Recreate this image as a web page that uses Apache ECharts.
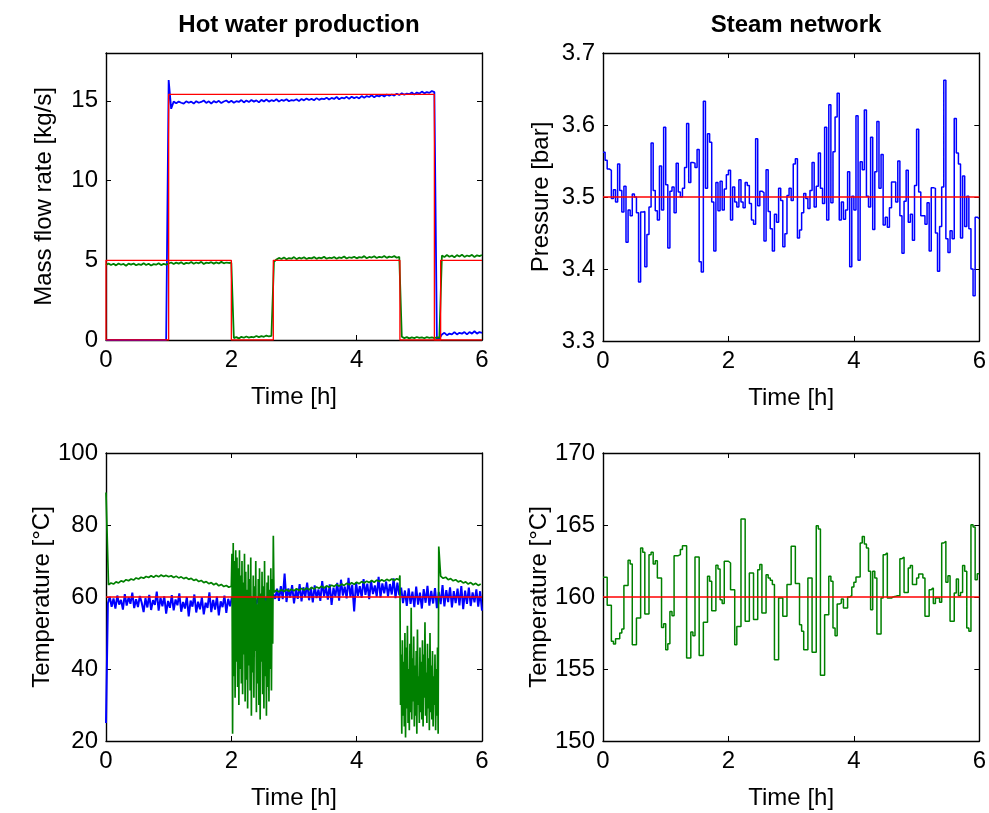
<!DOCTYPE html>
<html>
<head>
<meta charset="utf-8">
<title>Hot water production / Steam network</title>
<script src="https://cdn.jsdelivr.net/npm/echarts@6/dist/echarts.min.js"></script>
<style>
  html, body { margin: 0; padding: 0; background: #fff; }
  #chart { width: 989px; height: 813px; }
</style>
</head>
<body>
<div id="chart"></div>
<script>
// ---- data ----
// top left: mass flow rate [kg/s], sampled every 0.04 h from t = 0
var flowStep = 0.04;
var flowHot = [
  0, 0, 0, 0, 0, 0, 0, 0, 0, 0, 0, 0, 0, 0, 0, 0, 0, 0, 0, 0, 0, 0, 0, 0, 0,
  16.3, 14.5, 14.95, 14.85, 14.95, 14.88, 14.82, 14.97, 14.88, 14.95, 14.83, 14.98, 14.88, 14.93, 15.02,
  14.87, 14.97, 14.83, 14.98, 14.9, 15.0, 14.86, 14.96, 15.02, 14.9, 15.0,
  14.88, 14.98, 14.93, 15.05, 14.9, 15.02, 14.92, 15.05, 14.95, 15.03, 14.9, 15.06, 14.96, 15.08, 14.95,
  15.04, 14.98, 15.1, 14.95, 15.06, 15.0, 15.1, 14.97, 15.05, 15.02,
  15.1, 14.98, 15.12, 15.03, 15.14, 15.05, 15.12, 15.04, 15.17, 15.06, 15.14, 15.1, 15.2, 15.08, 15.18,
  15.12, 15.24, 15.1, 15.2, 15.15, 15.25, 15.12, 15.26, 15.17, 15.24,
  15.15, 15.3, 15.2, 15.3, 15.24, 15.35, 15.22, 15.33, 15.28, 15.38, 15.27, 15.4, 15.32, 15.4, 15.33,
  15.45, 15.36, 15.48, 15.38, 15.46, 15.42, 15.52, 15.4, 15.52, 15.45,
  15.58, 15.47, 15.55, 15.5, 15.62, 15.55,
  0.08, 0.1, 0.35, 0.45, 0.3, 0.4, 0.35, 0.5, 0.35, 0.45, 0.4, 0.5, 0.35, 0.5, 0.4, 0.55, 0.4, 0.5, 0.45
];
var flowGreen = [
  4.7,
  4.8, 4.7, 4.78, 4.68, 4.8, 4.72, 4.77, 4.66, 4.79, 4.73, 4.8, 4.69, 4.76, 4.71, 4.82, 4.7, 4.78, 4.67,
  4.76, 4.72, 4.81, 4.7, 4.77, 4.73,
  4.8, 4.86, 4.77, 4.85, 4.79, 4.88, 4.76, 4.84, 4.8, 4.89, 4.78, 4.86, 4.81, 4.9, 4.77, 4.85, 4.82, 4.88,
  4.79, 4.87, 4.8, 4.9, 4.81, 4.86, 4.83,
  4.85,
  0.12, 0.18, 0.1, 0.2, 0.14, 0.22, 0.15, 0.2, 0.17, 0.25, 0.18, 0.24, 0.2, 0.28, 0.22, 0.26,
  4.9,
  5.05, 5.15, 5.08, 5.18, 5.06, 5.14, 5.1, 5.2, 5.07, 5.16, 5.11, 5.19, 5.08, 5.15, 5.12, 5.2, 5.09, 5.17,
  5.12, 5.22, 5.1, 5.16, 5.13, 5.21, 5.1, 5.18, 5.14, 5.24, 5.11, 5.19, 5.15, 5.22, 5.12, 5.2, 5.16, 5.26,
  5.13, 5.21, 5.17, 5.25, 5.14, 5.22, 5.18, 5.27, 5.15, 5.23, 5.19, 5.26, 5.16, 5.22,
  0.2, 0.12, 0.18, 0.1, 0.16, 0.12, 0.19, 0.13, 0.17, 0.11, 0.18, 0.14, 0.16, 0.12, 0.17, 0.15,
  5.3, 5.2, 5.33, 5.22, 5.3, 5.18, 5.32, 5.24, 5.35, 5.21, 5.3, 5.25, 5.34, 5.2, 5.31, 5.26, 5.33
];
// set points (stairs): switching times [h] and levels [kg/s]
var flowHotSetT = [0, 1.0, 5.24, 6];
var flowHotSetV = [0, 15.4, 0, 0];
var flowGreenSetT = [0, 0, 2.0, 2.67, 4.69, 5.34, 6];
var flowGreenSetV = [0, 5, 0, 5, 0, 5, 5];

// top right: steam pressure [bar], held every 1/30 h
var stairStep = 1 / 30;
var pressure = [
  3.562, 3.551, 3.539, 3.537, 3.498, 3.510, 3.493, 3.546, 3.509, 3.479,
  3.515, 3.437, 3.482, 3.474, 3.504, 3.500, 3.478, 3.382, 3.479, 3.480,
  3.403, 3.448, 3.486, 3.575, 3.509, 3.481, 3.468, 3.543, 3.482, 3.597,
  3.517, 3.429, 3.508, 3.514, 3.478, 3.547, 3.507, 3.500, 3.512, 3.541,
  3.602, 3.520, 3.548, 3.547, 3.541, 3.566, 3.410, 3.396, 3.633, 3.512,
  3.588, 3.576, 3.493, 3.425, 3.520, 3.481, 3.522, 3.482, 3.511, 3.531,
  3.537, 3.468, 3.514, 3.493, 3.486, 3.524, 3.493, 3.485, 3.520, 3.516,
  3.491, 3.468, 3.462, 3.581, 3.488, 3.508, 3.506, 3.439, 3.538, 3.480,
  3.456, 3.425, 3.476, 3.465, 3.512, 3.495, 3.431, 3.449, 3.502, 3.512,
  3.495, 3.546, 3.553, 3.443, 3.454, 3.478, 3.505, 3.498, 3.484, 3.509,
  3.548, 3.486, 3.515, 3.561, 3.512, 3.491, 3.597, 3.468, 3.628, 3.492,
  3.563, 3.611, 3.644, 3.468, 3.493, 3.469, 3.482, 3.535, 3.403, 3.501,
  3.482, 3.613, 3.412, 3.549, 3.538, 3.621, 3.501, 3.486, 3.583, 3.455,
  3.535, 3.605, 3.512, 3.559, 3.461, 3.472, 3.458, 3.485, 3.521, 3.521,
  3.493, 3.550, 3.474, 3.422, 3.494, 3.537, 3.465, 3.476, 3.440, 3.516,
  3.594, 3.507, 3.474, 3.474, 3.462, 3.492, 3.425, 3.513, 3.512, 3.450,
  3.397, 3.459, 3.514, 3.662, 3.442, 3.423, 3.453, 3.442, 3.609, 3.561,
  3.546, 3.443, 3.529, 3.459, 3.501, 3.456, 3.400, 3.363, 3.472, 3.470
];
var pressureSet = 3.5;

// bottom left: hot water temperatures [°C]
var tempBlueStep = 0.03;
var tempBlue = [
  25,
  58.2, 60.1, 57.3, 59.6, 56.8, 60.4, 57.9, 59.2, 56.5, 60.8,
  57.6, 59.9, 58.1, 61.2, 56.9, 59.4, 57.2, 60.3, 58.4, 55.8,
  59.7, 57.1, 60.6, 56.4, 59.1, 57.8, 61.5, 56.2, 59.8, 57.4,
  60.2, 55.4, 58.9, 57.0, 60.5, 56.3, 59.3, 57.7, 61.0, 55.9,
  58.6, 56.8, 60.0, 54.6, 59.0, 57.3, 60.7, 55.7, 58.7, 56.6,
  59.9, 55.2, 58.4, 57.0, 61.3, 55.8, 59.2, 56.5, 60.1, 54.9,
  58.8, 57.2, 60.4, 55.6, 59.5, 57.4, 60.0, 57.6, 60.3, 58.0,
  59.6, 57.8, 60.5, 58.2, 59.9, 57.5, 60.2, 58.4, 60.6, 57.9,
  60.0, 58.3, 60.8, 57.7, 59.8, 58.5, 60.4, 58.0, 60.9, 59.5,
  62.3, 58.9, 63.0, 59.4, 66.5, 58.6, 62.4, 59.8, 63.3, 58.2,
  62.0, 59.5, 63.6, 58.8, 62.7, 60.0, 64.0, 59.1, 62.5, 58.5,
  63.2, 59.7, 62.1, 58.9, 64.4, 60.2, 62.8, 59.3, 63.5, 57.8,
  62.6, 60.1, 63.9, 59.0, 64.8, 60.4, 62.9, 59.6, 65.3, 60.0,
  63.4, 56.0, 64.1, 60.3, 63.0, 59.8, 65.0, 60.6, 63.7, 59.4,
  64.5, 60.8, 63.2, 60.1, 65.6, 59.9, 63.8, 61.0, 64.3, 60.2,
  63.6, 60.7, 65.2, 59.7, 64.0, 60.5, 62.6, 58.3, 61.8, 57.5,
  62.4, 58.1, 61.5, 57.2, 62.9, 57.9, 61.2, 56.8, 62.2, 58.4,
  63.1, 57.6, 61.7, 58.2, 62.5, 56.9, 61.4, 58.0, 63.3, 57.4,
  61.9, 58.6, 62.7, 57.1, 61.6, 58.3, 62.3, 57.7, 63.0, 56.6,
  61.8, 58.1, 62.6, 57.5, 61.3, 58.5, 62.1, 57.3, 61.6, 56.2
];
// green temperature: calm parts every 0.04 h, oscillating parts every 0.01 h
var tempGreenA = [
  89,
  63.4, 63.9, 63.6, 64.2, 63.9, 64.5, 64.2, 64.8, 64.5, 65.0, 64.7, 65.3, 65.0, 65.5, 65.2, 65.7, 65.4,
  65.9, 65.5, 66.0, 65.6, 66.1, 65.7, 66.0, 65.6, 65.9, 65.4, 65.8, 65.3, 65.6, 65.1, 65.4, 64.9, 65.2,
  64.6, 64.9, 64.3, 64.6, 64.0, 64.3, 63.7, 64.0, 63.4, 63.8, 63.1, 63.5, 62.9, 63.2, 62.7, 63.0
];
var tempGreenBurst1 = [
  72, 22, 75, 38, 70, 32, 73, 42, 71, 35, 68, 30, 73, 40, 66, 36, 70, 33, 64, 44,
  72, 31, 67, 37, 62, 29, 69, 41, 65, 34, 71, 27, 60, 39, 66, 32, 63, 45, 70, 28,
  58, 36, 65, 30, 68, 26, 61, 42, 67, 33, 63, 29, 70, 38, 59, 27, 64, 35, 66, 31,
  62, 40, 68, 34, 65, 47, 77
];
var tempGreenB = [
  61.3, 61.9, 61.4, 62.0, 61.5, 62.1, 61.6, 62.2, 61.7, 62.3, 61.8, 62.4, 61.9, 62.5, 62.0, 62.7, 62.2,
  62.8, 62.4, 63.0, 62.5, 63.1, 62.7, 63.3, 62.9, 63.5, 63.0, 63.6, 63.2, 63.8, 63.4, 64.0, 63.5, 64.1,
  63.7, 64.3, 63.9, 64.4, 64.0, 64.6, 64.1, 64.7, 64.3, 64.8, 64.4, 64.9, 64.5, 65.0, 64.6, 65.1, 64.7
];
var tempGreenBurst2 = [
  66, 30, 44, 22, 48, 27, 42, 24, 50, 21, 46, 29, 52, 25, 40, 23, 47, 28, 57, 26,
  43, 31, 49, 24, 41, 27, 45, 22, 51, 30, 38, 25, 46, 28, 42, 26, 48, 24, 44, 32,
  53, 27, 39, 25, 47, 29, 43, 23, 50, 28, 41, 26, 45, 24, 38, 30, 44, 23, 40, 27,
  46, 22, 74
];
var tempGreenC = [
  65.8, 65.2, 65.5, 64.8, 65.1, 64.5, 64.8, 64.2, 64.5, 63.9, 64.2, 63.6, 64.0, 63.4, 63.8, 63.2, 63.6
];
var tempGreenParts = [
  { t0: 0, dt: 0.04, values: tempGreenA },
  { t0: 2.01, dt: 0.01, values: tempGreenBurst1 },
  { t0: 2.68, dt: 0.04, values: tempGreenB },
  { t0: 4.69, dt: 0.01, values: tempGreenBurst2 },
  { t0: 5.34, dt: 0.04, values: tempGreenC }
];
var tempSet = 60;

// bottom right: steam temperature [°C], held every 1/30 h
var steamTemp = [
  161.37, 161.37, 159.42, 159.42, 156.92, 156.74, 157.10, 157.10, 157.50, 157.78,
  160.79, 160.79, 162.55, 162.29, 156.69, 156.69, 158.54, 158.54, 163.40, 163.10,
  158.82, 158.82, 162.94, 163.10, 162.29, 162.52, 161.32, 161.32, 157.89, 158.15,
  156.34, 156.76, 159.00, 158.70, 162.87, 162.87, 162.94, 163.29, 163.56, 163.56,
  155.76, 155.76, 157.57, 157.31, 162.78, 162.78, 155.93, 155.93, 158.24, 158.24,
  161.44, 161.09, 159.05, 159.05, 162.20, 161.94, 159.81, 159.54, 162.48, 162.48,
  162.36, 160.51, 160.51, 156.69, 157.96, 157.96, 165.42, 165.42, 158.31, 158.31,
  161.67, 161.67, 158.43, 158.43, 161.90, 162.25, 158.89, 158.89, 161.55, 161.32,
  161.16, 160.86, 155.65, 155.65, 159.93, 159.93, 158.66, 158.66, 160.86, 160.86,
  163.52, 163.52,
  160.93, 160.93, 158.08, 157.62, 156.34, 156.34, 161.32, 161.32, 156.16, 156.16,
  164.95, 164.72, 154.56, 154.56, 158.77, 158.77, 161.44, 161.09, 157.85, 157.31,
  159.51, 159.58, 159.86, 159.24, 159.24, 160.00, 160.09, 160.69, 161.02, 161.39,
  161.39, 163.75, 164.21, 163.68, 163.40, 161.78, 159.12, 161.78, 161.32, 157.43,
  157.43, 159.93, 162.94, 163.06, 159.93, 159.93, 160.02, 160.05, 160.09, 160.09,
  162.66, 162.78, 160.32, 160.32, 162.01, 162.18, 160.86, 160.86, 161.32, 161.60,
  161.60, 161.32, 158.66, 158.66, 160.51, 160.63, 159.54, 159.93, 159.93, 159.63,
  163.75, 163.87, 161.02, 161.48, 158.31, 158.31, 160.28, 161.25, 160.09, 160.32,
  162.18, 161.78, 157.85, 157.62, 165.02, 164.86, 161.20, 161.62
];
var steamTempSet = 160;

var timeTicks = [0, 6, 2];  // min, max, interval [h]
var font = '"Liberation Sans", Arial, Helvetica, sans-serif';
var fs = 24;

// ---- helpers ----
function sampled(t0, dt, values) {
  return values.map(function (v, i) { return [t0 + i * dt, v]; });
}
function held(t0, dt, values, tEnd) {
  var pts = sampled(t0, dt, values);
  pts.push([tEnd, values[values.length - 1]]);
  return pts;
}
function pairs(ts, vs) {
  return ts.map(function (t, i) { return [t, vs[i]]; });
}
function flat(v) {
  return [[timeTicks[0], v], [timeTicks[1], v]];
}

var greenTemp = [];
tempGreenParts.forEach(function (p) {
  greenTemp = greenTemp.concat(sampled(p.t0, p.dt, p.values));
});

var grids = [
  { left: 106, top: 53, width: 376, height: 287 },
  { left: 603, top: 53, width: 377, height: 288 },
  { left: 106, top: 453, width: 376, height: 288 },
  { left: 603, top: 453, width: 377, height: 288 }
];
var yCfg = [
  { min: 0, max: 18, interval: 5, name: 'Mass flow rate [kg/s]', dec: 0 },
  { min: 3.3, max: 3.7, interval: 0.1, name: 'Pressure [bar]', dec: 1 },
  { min: 20, max: 100, interval: 20, name: 'Temperature [\u00b0C]', dec: 0 },
  { min: 150, max: 170, interval: 5, name: 'Temperature [\u00b0C]', dec: 0 }
];

var black = '#000';
var axisW = 1.4;
var xAxes = [], yAxes = [];
grids.forEach(function (g, i) {
  var base = {
    gridIndex: i, type: 'value',
    min: timeTicks[0], max: timeTicks[1], interval: timeTicks[2],
    axisLine: { show: true, onZero: false, lineStyle: { color: black, width: axisW } },
    axisTick: { show: true, inside: true, length: 5, lineStyle: { color: black, width: 1 } },
    splitLine: { show: false }
  };
  xAxes.push(Object.assign({}, base, {
    position: 'bottom',
    name: 'Time [h]', nameLocation: 'middle', nameGap: 45,
    nameTextStyle: { fontFamily: font, fontSize: fs, color: black },
    axisLabel: { fontFamily: font, fontSize: fs, color: black, margin: 8,
                 showMinLabel: true, showMaxLabel: true }
  }));
  xAxes.push(Object.assign({}, base, { position: 'top', axisLabel: { show: false } }));

  var c = yCfg[i];
  var ybase = {
    gridIndex: i, type: 'value', min: c.min, max: c.max, interval: c.interval,
    axisLine: { show: true, onZero: false, lineStyle: { color: black, width: axisW } },
    axisTick: { show: true, inside: true, length: 5, lineStyle: { color: black, width: 1 } },
    splitLine: { show: false }
  };
  yAxes.push(Object.assign({}, ybase, {
    position: 'left',
    name: c.name, nameLocation: 'middle', nameGap: 50,
    nameTextStyle: { fontFamily: font, fontSize: fs, color: black },
    axisLabel: {
      fontFamily: font, fontSize: fs, color: black, margin: 8,
      showMinLabel: true, showMaxLabel: c.max % c.interval < 1e-9 || (c.interval - c.max % c.interval) < 1e-9,
      formatter: function (v) { return v.toFixed(c.dec); }
    }
  }));
  yAxes.push(Object.assign({}, ybase, { position: 'right', axisLabel: { show: false } }));
});

function line(gi, data, color, width, step) {
  return {
    type: 'line', xAxisIndex: gi * 2, yAxisIndex: gi * 2, data: data,
    showSymbol: false, symbol: 'none', step: step || false,
    lineStyle: { color: color, width: width }, silent: true, animation: false
  };
}

var BLUE = '#0000ff', GREEN = '#008000', RED = '#ff0000';

var option = {
  backgroundColor: '#fff',
  animation: false,
  title: [
    { text: 'Hot water production', left: 294, top: 8, textAlign: 'center',
      textStyle: { fontFamily: font, fontSize: fs, fontWeight: 'bold', color: black } },
    { text: 'Steam network', left: 791, top: 8, textAlign: 'center',
      textStyle: { fontFamily: font, fontSize: fs, fontWeight: 'bold', color: black } }
  ],
  grid: grids,
  xAxis: xAxes,
  yAxis: yAxes,
  series: [
    line(0, sampled(0, flowStep, flowHot), BLUE, 1.8),
    line(0, sampled(0, flowStep, flowGreen), GREEN, 1.8),
    line(0, pairs(flowHotSetT, flowHotSetV), RED, 1.3, 'end'),
    line(0, pairs(flowGreenSetT, flowGreenSetV), RED, 1.3, 'end'),

    line(1, held(0, stairStep, pressure, 6), BLUE, 1.5, 'end'),
    line(1, flat(pressureSet), RED, 1.4),

    line(2, sampled(0, tempBlueStep, tempBlue), BLUE, 2),
    line(2, greenTemp, GREEN, 1.7),
    line(2, flat(tempSet), RED, 1.4),

    line(3, held(0, stairStep, steamTemp, 6), GREEN, 1.5, 'end'),
    line(3, flat(steamTempSet), RED, 1.4)
  ]
};

var chart = echarts.init(document.getElementById('chart'), null, { renderer: 'canvas' });
chart.setOption(option);
</script>
</body>
</html>
